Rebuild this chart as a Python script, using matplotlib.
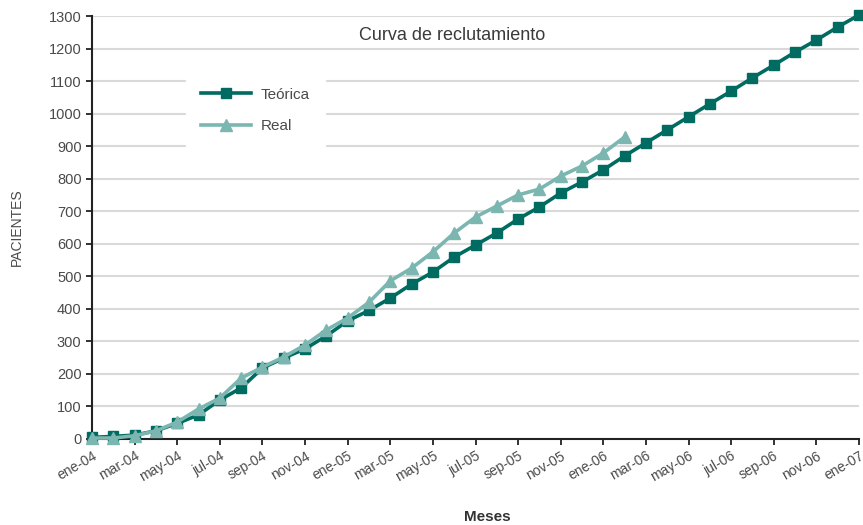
import matplotlib
matplotlib.use("Agg")
import matplotlib.pyplot as plt
import numpy as np

months = ['ene', 'feb', 'mar', 'abr', 'may', 'jun', 'jul', 'ago', 'sep', 'oct', 'nov', 'dic']
years = ['04', '05', '06', '07']
categories = [f"{m}-{y}" for y in years for m in months][:37]

teorica = [5, 8, 12, 25, 48, 74, 120, 157, 218, 249, 277, 317, 363, 395,
           433, 476, 513, 559, 596, 633, 676, 713, 756, 790, 827, 870, 910,
           950, 990, 1030, 1069, 1110, 1149, 1189, 1226, 1266, 1303]
real = [3, 3, 10, 25, 52, 92, 126, 187, 221, 252, 289, 335, 372, 420,
        486, 525, 575, 633, 682, 716, 750, 768, 808, 839, 879, 928]

yticks = list(range(0, 1301, 100))

plt.rcParams['font.family'] = ['Liberation Sans', 'DejaVu Sans']
txt = '#4a4a4a'

fig = plt.figure(figsize=(8.63, 5.25), dpi=100)
ax = fig.add_axes([92/863, 1-439/525, (859-92)/863, (439-16)/525])

x = np.arange(len(categories))
ax.plot(x[:len(teorica)], teorica, color='#006b61', lw=2.6, marker='s', ms=7,
        label='Teórica', zorder=4, clip_on=False)
ax.plot(x[:len(real)], real, color='#7bb6b1', lw=2.6, marker='^', ms=8,
        label='Real', zorder=5, clip_on=False)

ax.set_xlim(0, len(categories) - 1)
ax.set_ylim(0, 1300)
ax.set_yticks(yticks)
ax.set_yticklabels([str(v) for v in yticks], fontsize=10.5, color=txt)
ax.set_xticks(x[::2])
ax.set_xticklabels(categories[::2], rotation=30, ha='right', rotation_mode='anchor',
                   fontsize=10, color=txt)
ax.yaxis.grid(True, color='#d9d9d9', lw=1.5, zorder=0)
ax.set_axisbelow(True)
for s in ['top', 'right']:
    ax.spines[s].set_visible(False)
ax.spines['left'].set_color('#222222')
ax.spines['bottom'].set_color('#222222')
ax.spines['left'].set_linewidth(1.5)
ax.spines['bottom'].set_linewidth(1.5)
ax.tick_params(axis='both', direction='out', length=4, width=1.3, color='#222222')
ax.tick_params(axis='x', pad=3)

ax.set_ylabel('PACIENTES', fontsize=10, color=txt, labelpad=18)
fig.text(487/863, 1 - 517/525, 'Meses', ha='center', va='center',
         fontsize=11, fontweight='bold', color='#333333')

ax.text(0.47, 0.955, 'Curva de reclutamiento', transform=ax.transAxes,
        ha='center', va='center', fontsize=13, color='#3a3a3a')

leg = ax.legend(loc='upper left', bbox_to_anchor=(0.112, 0.885), frameon=True,
                fontsize=11, handlelength=3.3, borderpad=1.0, labelspacing=1.15,
                handletextpad=0.6, fancybox=False)
leg.get_frame().set_edgecolor('white')
leg.get_frame().set_facecolor('white')
leg.get_frame().set_alpha(1)
for t in leg.get_texts():
    t.set_color(txt)

fig.savefig('out.png', dpi=100)
